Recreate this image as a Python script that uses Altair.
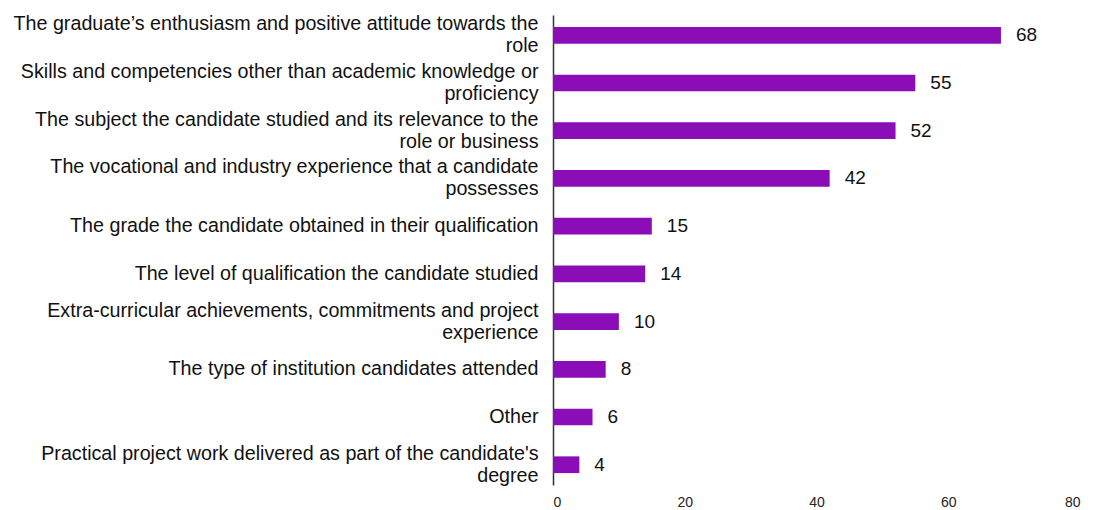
import altair as alt
import pandas as pd

categories = [
    "The graduate\u2019s enthusiasm and positive attitude towards the|role",
    "Skills and competencies other than academic knowledge or|proficiency",
    "The subject the candidate studied and its relevance to the|role or business",
    "The vocational and industry experience that a candidate|possesses",
    "The grade the candidate obtained in their qualification",
    "The level of qualification the candidate studied",
    "Extra-curricular achievements, commitments and project|experience",
    "The type of institution candidates attended",
    "Other",
    "Practical project work delivered as part of the candidate's|degree",
]
values = [68, 55, 52, 42, 15, 14, 10, 8, 6, 4]
x_ticks = [0, 20, 40, 60, 80]

df = pd.DataFrame({"category": categories, "value": values})

FONT = "Liberation Sans"
COLOR = "#8A0DB8"

y_enc = alt.Y(
    "category:N",
    sort=categories,
    title=None,
    scale=alt.Scale(paddingInner=0.65, paddingOuter=0.25),
    axis=alt.Axis(
        labelExpr="split(datum.label, '|')",
        labelFont=FONT,
        labelFontSize=19.7,
        labelColor="#111111",
        labelPadding=15,
        labelLimit=700,
        labelLineHeight=22,
        labelOffset={"expr": "indexof(datum.value, '|') >= 0 ? -11 : 0"},
        ticks=False,
        domainColor="#333333",
        domainWidth=1.5,
    ),
)

x_enc = alt.X(
    "value:Q",
    title=None,
    scale=alt.Scale(domain=[0, 80], nice=False),
    axis=alt.Axis(
        values=x_ticks,
        grid=False,
        domain=False,
        ticks=False,
        labelFont=FONT,
        labelFontSize=14,
        labelColor="#222222",
        labelPadding=10,
    ),
)

bars = alt.Chart(df).mark_bar(color=COLOR).encode(x=x_enc, y=y_enc)

labels = alt.Chart(df).mark_text(
    align="left", baseline="middle", dx=15, font=FONT, fontSize=19, color="#111111"
).encode(x="value:Q", y=alt.Y("category:N", sort=categories), text="value:Q")

chart = (
    (bars + labels)
    .properties(width=527, height=470)
    .configure(background="white")
    .configure_view(strokeWidth=0, stroke="transparent")
)

chart.save("out.html", embed_options={"renderer": "svg", "actions": False})
